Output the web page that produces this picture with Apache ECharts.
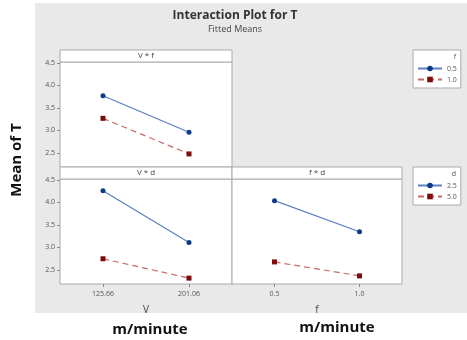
<!DOCTYPE html>
<html>
<head>
<meta charset="utf-8">
<script src="https://cdn.jsdelivr.net/npm/echarts@6/dist/echarts.min.js"></script>
<style>
  html, body { margin: 0; padding: 0; background: #fff; }
  #chart { width: 467px; height: 340px; }
</style>
</head>
<body>
<div id="chart"></div>
<script>
// categories
var vLevels = ['125.66', '201.06']
var fLevels = ['0.5', '1.0']
var yTicks = [2.5, 3.0, 3.5, 4.0, 4.5]

// V * f panel
var vfF05 = [3.77, 2.96]
var vfF10 = [3.27, 2.48]
// V * d panel
var vdD25 = [4.26, 3.11]
var vdD50 = [2.75, 2.32]
// f * d panel
var fdD25 = [4.04, 3.35]
var fdD50 = [2.68, 2.37]

var blueLine = '#5a7fc2'
var blueDot = '#0c3a88'
var redLine = '#c46a6a'
var redDot = '#7e0c0c'
var font = 'Open Sans'

var chart = echarts.init(document.getElementById('chart'))

function yAxis(idx, showLabel) {
  return {
    type: 'value',
    gridIndex: idx,
    min: 2.19,
    max: 4.52,
    axisLine: { show: false },
    axisTick: { show: showLabel, length: 3, customValues: yTicks, lineStyle: { color: '#888' } },
    axisLabel: {
      show: showLabel,
      customValues: yTicks,
      fontSize: 7,
      color: '#555',
      fontFamily: font,
      margin: 5,
      formatter: function(v) { return v.toFixed(1) }
    },
    splitLine: { show: false }
  }
}

function xAxis(idx, cats, name, showLabel) {
  return {
    type: 'category',
    gridIndex: idx,
    data: cats,
    boundaryGap: true,
    axisLine: { show: false },
    axisTick: { show: showLabel, alignWithLabel: true, length: 3, lineStyle: { color: '#888' } },
    axisLabel: { show: showLabel, fontSize: 7, color: '#555', fontFamily: font, margin: 6 },
    name: name,
    nameLocation: 'middle',
    nameGap: 21,
    nameTextStyle: { fontSize: 10, color: '#444', fontFamily: font }
  }
}

function solid(name, x, y, data) {
  return {
    name: name, type: 'line', xAxisIndex: x, yAxisIndex: y, data: data,
    symbol: 'circle', symbolSize: 5,
    lineStyle: { color: blueLine, width: 1.2 },
    itemStyle: { color: blueDot },
    animation: false
  }
}

function dashed(name, x, y, data) {
  return {
    name: name, type: 'line', xAxisIndex: x, yAxisIndex: y, data: data,
    symbol: 'rect', symbolSize: 5,
    lineStyle: { color: redLine, width: 1.2, type: [6, 4] },
    itemStyle: { color: redDot },
    animation: false
  }
}

function strip(x, y, w, label) {
  return [{
    type: 'rect',
    shape: { x: x, y: y, width: w, height: 12 },
    style: { fill: '#fff', stroke: '#aaa', lineWidth: 1 }
  }, {
    type: 'text',
    x: x + w / 2, y: y + 6,
    style: { text: label, fontSize: 8, fill: '#444', fontFamily: font, align: 'center', verticalAlign: 'middle' }
  }]
}

var legendBase = {
  orient: 'vertical',
  backgroundColor: '#fff',
  borderColor: '#aaa',
  borderWidth: 1,
  padding: [15, 4, 5, 4],
  itemGap: 4,
  itemWidth: 24,
  itemHeight: 7,
  textStyle: { fontSize: 7, color: '#555', fontFamily: font }
}

chart.setOption({
  backgroundColor: '#fff',
  title: {
    text: 'Interaction Plot for T',
    subtext: 'Fitted Means',
    left: 230, top: 5, textAlign: 'center',
    itemGap: 3,
    textStyle: { fontSize: 12, fontWeight: 'bold', color: '#333', fontFamily: font },
    subtextStyle: { fontSize: 9, color: '#444', fontFamily: font }
  },
  legend: [
    Object.assign({ left: 413, top: 50, data: ['0.5', '1.0'] }, legendBase),
    Object.assign({ left: 413, top: 167, data: ['2.5', '5.0'] }, legendBase)
  ],
  grid: [
    { left: 60, top: 62, width: 172, height: 105, show: true, backgroundColor: '#fff', borderColor: '#aaa' },
    { left: 60, top: 179, width: 172, height: 105, show: true, backgroundColor: '#fff', borderColor: '#aaa' },
    { left: 232, top: 179, width: 170, height: 105, show: true, backgroundColor: '#fff', borderColor: '#aaa' }
  ],
  xAxis: [
    xAxis(0, vLevels, '', false),
    xAxis(1, vLevels, 'V', true),
    xAxis(2, fLevels, 'f', true)
  ],
  yAxis: [yAxis(0, true), yAxis(1, true), yAxis(2, false)],
  series: [
    solid('0.5', 0, 0, vfF05),
    dashed('1.0', 0, 0, vfF10),
    solid('2.5', 1, 1, vdD25),
    dashed('5.0', 1, 1, vdD50),
    solid('2.5', 2, 2, fdD25),
    dashed('5.0', 2, 2, fdD50)
  ],
  graphic: [
    { type: 'rect', z: -10, shape: { x: 35, y: 3, width: 432, height: 310 }, style: { fill: '#e9e9e9' } }
  ].concat(strip(60, 50, 172, 'V * f'))
    .concat(strip(60, 167, 172, 'V * d'))
    .concat(strip(232, 167, 170, 'f * d'))
    .concat([
      { type: 'text', z: 100, x: 456, y: 53, style: { text: 'f', fontSize: 7, fill: '#555', fontFamily: font, align: 'right' } },
      { type: 'text', z: 100, x: 456, y: 170, style: { text: 'd', fontSize: 7, fill: '#555', fontFamily: font, align: 'right' } },
      { type: 'text', x: 17, y: 160, rotation: Math.PI / 2,
        style: { text: 'Mean of T', fontSize: 15, fontWeight: 'bold', fill: '#111', fontFamily: font, align: 'center', verticalAlign: 'middle' } },
      { type: 'text', x: 150, y: 330,
        style: { text: 'm/minute', fontSize: 15, fontWeight: 'bold', fill: '#111', fontFamily: font, align: 'center', verticalAlign: 'middle' } },
      { type: 'text', x: 337, y: 328,
        style: { text: 'm/minute', fontSize: 15, fontWeight: 'bold', fill: '#111', fontFamily: font, align: 'center', verticalAlign: 'middle' } }
    ])
})
</script>
</body>
</html>
